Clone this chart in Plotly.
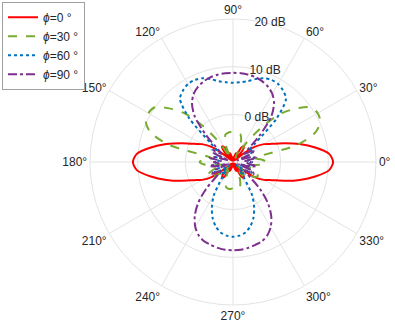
import plotly.graph_objects as go

# angles in degrees, 0..360 step 5
theta = list(range(0, 365, 5))

# gain in dB
gain_phi0 = [11, 10.2, 7.5, 4.5, 1.5, -1, -2.5, -4.5, -8, -9.5, -7, -6, -6.5, -9.5, -8, -8.5, -9.8, -9, -9.5,
             -9, -9.8, -8.5, -8, -9.5, -6.5, -6, -7, -9.5, -8, -4.5, -2.5, -1, 1.5, 4.5, 7.5, 10.2, 11,
             10.2, 7.5, 4.5, 1.5, -1, -2.5, -4.5, -8, -9.5, -7, -6, -6.5, -9.5, -8, -8.5, -9.8, -9, -9.5,
             -9, -9.8, -8.5, -8, -9.5, -6.5, -6, -7, -9.5, -8, -4.5, -2.5, -1, 1.5, 4.5, 7.5, 10.2, 11]

gain_phi30 = [-3, -4, -5.5, 4, 8.5, 10.2, 10.5, 10, 7.5, 4.5, 0, -5, -9, -7, -5, -4, -3.8, -3.7, -3.7,
              -3.7, -3.8, -4, -5, -7, -9, -5, 0, 4.5, 7.5, 10, 10.5, 10.2, 8.5, 4, -5.5, -4, -3,
              -4, -6, -8, -6, -4.5, -4, -4.5, -6, -9, -7, -6.5, -8, -7, -5.5, -4.5, -4.3, -4.3, -4.5,
              -4.3, -4.3, -4.5, -5.5, -7, -8, -6.5, -7, -9, -6, -4.5, -4, -4.5, -6, -8, -6, -4, -3]

gain_phi60 = [-6, -7, -5.5, -6, -8, -6, -5, -6, -4, 3, 7.3, 8.3, 8.9, 9, 8.7, 8, 7.2, 6.8, 6.6,
              6.8, 7.2, 8, 8.7, 9, 8.9, 8.3, 7.3, 3, -4, -6, -5, -6, -8, -6, -5.5, -7, -6,
              -6.5, -5.5, -7, -8.5, -6, -5.5, -7, -9, -6.5, -7.5, -6, -2, 0.5, 2.5, 4, 5, 5.5, 5.7,
              5.5, 5, 4, 2.5, 0.5, -2, -6, -7.5, -6.5, -9, -7, -5.5, -6, -8.5, -7, -5.5, -6.5, -6]

gain_phi90 = [-6, -7.5, -5, -6, -9, -5.5, -5, -7, -6, -2, 2.5, 5, 6.5, 7.4, 8, 8.4, 8.6, 8.7, 8.7,
              8.7, 8.6, 8.4, 8, 7.4, 6.5, 5, 2.5, -2, -6, -7, -5, -5.5, -9, -6, -5, -7.5, -6,
              -7, -5, -6.5, -9, -5.5, -5, -7, -6, -2, 1.5, 4, 5.8, 7, 7.7, 8, 8.3, 8.5, 8.5,
              8.5, 8.3, 8, 7.7, 7, 5.8, 4, 1.5, -2, -6, -7, -5, -5.5, -9, -6.5, -5, -7, -6]

r_ticks = [0, 10, 20]
r_labels = ["0 dB", "10 dB", "20 dB"]

series = [
    ("<i>ϕ</i>=0 °", gain_phi0, "#ff0000", "solid"),
    ("<i>ϕ</i>=30 °", gain_phi30, "#77ac30", "dash"),
    ("<i>ϕ</i>=60 °", gain_phi60, "#0072bd", "dot"),
    ("<i>ϕ</i>=90 °", gain_phi90, "#7e2f8e", "dashdot"),
]

fig = go.Figure()
for name, r, color, dash in series:
    fig.add_trace(go.Scatterpolar(
        r=r,
        theta=theta,
        mode="lines",
        name=name,
        line=dict(color=color, width=2, dash=dash, shape="spline", smoothing=0.8),
    ))

grid = "#e3e3e3"
fig.update_layout(
    width=395,
    height=325,
    margin=dict(l=0, r=0, t=0, b=0),
    paper_bgcolor="white",
    font=dict(family="Liberation Sans, Arial, sans-serif", size=12, color="#262626"),
    polar=dict(
        domain=dict(x=[90 / 395, 376 / 395], y=[1 - 305 / 325, 1 - 19 / 325]),
        bgcolor="white",
        angularaxis=dict(
            direction="counterclockwise",
            rotation=0,
            dtick=30,
            ticksuffix="°",
            ticks="",
            showline=True,
            linecolor=grid,
            gridcolor=grid,
            tickfont=dict(size=12, color="#262626"),
        ),
        radialaxis=dict(
            range=[-10, 20],
            tickmode="array",
            tickvals=r_ticks,
            ticktext=r_labels,
            angle=84,
            tickangle=84,
            showline=False,
            ticks="",
            gridcolor=grid,
            tickfont=dict(size=12, color="#262626"),
        ),
    ),
    legend=dict(
        x=0.005, y=0.995, xanchor="left", yanchor="top",
        bgcolor="white", bordercolor="#a0a0a0", borderwidth=1,
        font=dict(size=12, color="#262626"),
        itemwidth=30,
        tracegroupgap=0,
    ),
)

fig.write_html("out.html", config={"displayModeBar": False},
               post_script="document.body.style.margin='0px';")
